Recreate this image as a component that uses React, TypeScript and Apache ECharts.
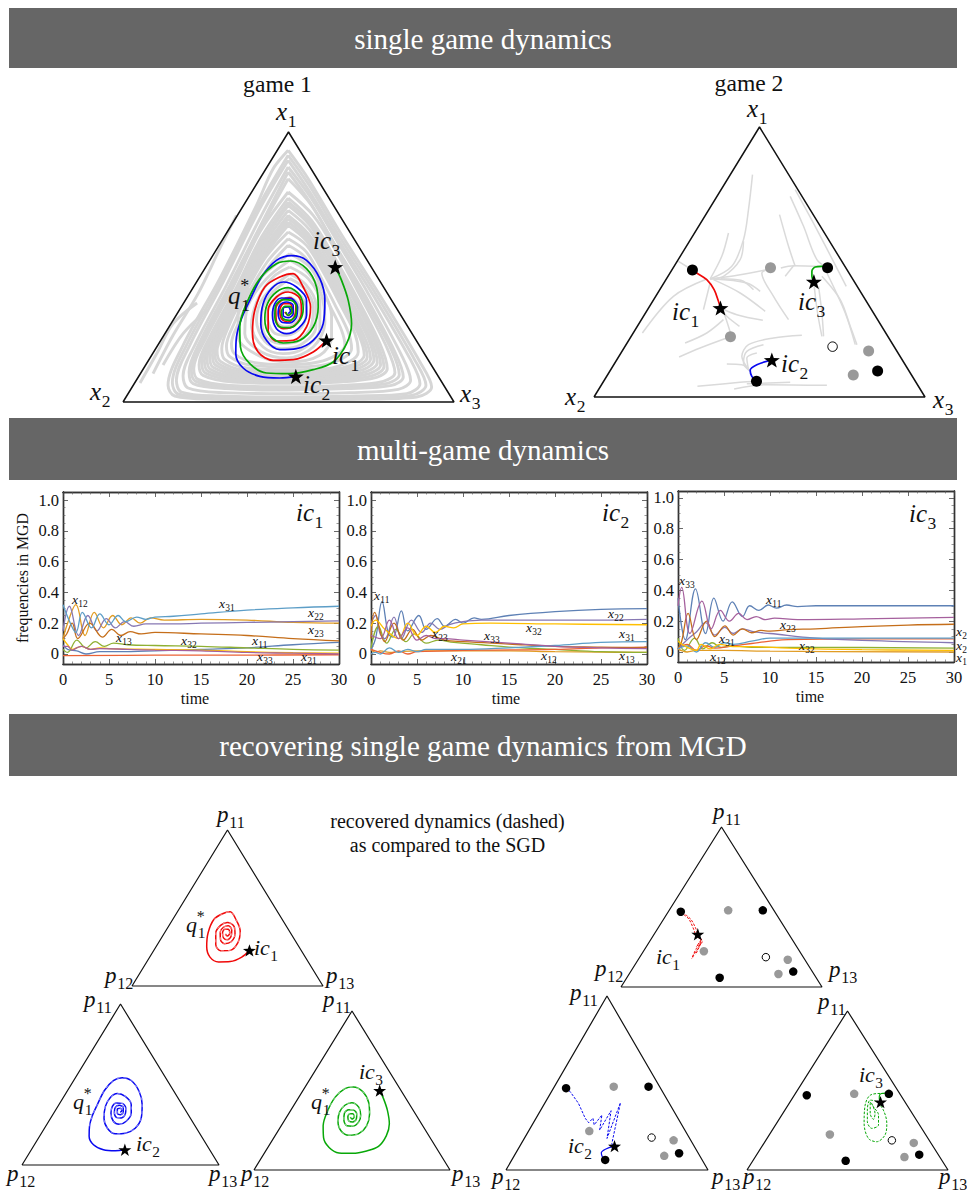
import React, { useEffect, useRef } from "react";
import * as echarts from "echarts";

// ---------- simplex-plane values (x along the base 0..992, y up to the apex 0..810) ----------
const SIMPLEX_X_MAX = 992;
const SIMPLEX_Y_MAX = 810;
const simplexEdge = [[0, 0], [992, 0], [496, 810], [0, 0]];

const spiralIc1 = [[610,185],[570,150],[510,127],[450,125],[405,150],[388,205],[395,275],[425,345],[470,375],[510,385],[540,345],[562,285],[550,225],[510,185],[460,183],[435,215],[435,275],[460,315],[495,330],[530,310],[535,270],[515,230],[480,220],[460,240],[458,280],[475,305],[500,313],[518,290],[515,260],[495,240],[475,250],[470,275],[482,295],[500,295],[508,275],[495,260],[485,270]];
const spiralIc2 = [[518,77],[470,72],[410,77],[360,102],[338,145],[340,195],[355,250],[380,305],[415,375],[460,425],[505,439],[550,425],[590,370],[605,305],[600,235],[570,185],[520,160],[470,157],[430,185],[413,235],[420,295],[445,340],[480,360],[520,345],[550,305],[550,260],[525,220],[490,205],[460,220],[448,260],[455,295],[475,312],[505,310],[523,285],[520,255],[500,237],[475,240],[465,265],[470,290],[490,300],[510,290],[510,265],[495,253],[480,260],[480,280],[495,285],[502,273],[495,265]];
const spiralIc3 = [[636,405],[655,365],[675,305],[685,235],[670,175],[630,120],[570,97],[500,85],[430,87],[380,115],[352,165],[350,225],[370,295],[410,370],[460,415],[502,423],[550,400],[580,345],[585,285],[570,225],[530,185],[480,177],[440,200],[425,250],[433,295],[460,330],[495,343],[530,320],[540,280],[530,245],[500,223],[470,225],[455,255],[458,290],[480,307],[505,305],[520,285],[518,260],[500,245],[480,250],[475,270],[485,287],[500,287],[507,270],[495,260],[488,270]];

const game1Gray = [
  [[495,755],[555,670],[650,510],[770,320],[890,120],[925,45],[880,15],[700,8],[495,5],[280,8],[155,18],[135,50],[180,170],[290,370],[400,590],[450,700],[495,755]],
  [[495,740],[558,650],[650,495],[760,320],[875,125],[908,50],[865,20],[700,12],[495,10],[285,13],[165,24],[148,58],[190,170],[295,365],[405,585],[495,740]],
  [[495,725],[560,630],[650,480],[750,320],[860,130],[890,55],[850,25],[700,18],[495,15],[290,18],[175,30],[160,65],[200,170],[300,360],[410,580],[495,725]],
  [[495,705],[565,610],[640,485],[735,325],[835,140],[862,65],[825,38],[680,28],[495,25],[300,28],[195,42],[180,78],[220,180],[310,350],[415,560],[495,705]],
  [[495,690],[560,600],[630,480],[720,330],[815,150],[840,75],[805,50],[670,40],[495,36],[310,40],[210,55],[198,90],[235,190],[320,350],[420,545],[495,690]],
  [[495,670],[565,590],[635,470],[715,325],[805,155],[828,82],[792,56],[665,45],[495,41],[315,45],[218,62],[205,95],[243,192],[325,348],[415,525],[495,670]],
  [[495,630],[570,560],[640,450],[710,320],[790,165],[815,88],[780,62],[660,50],[495,46],[320,50],[225,68],[212,100],[250,195],[330,345],[410,510],[495,630]],
  [[495,612],[565,545],[630,440],[700,315],[770,175],[792,100],[760,74],[650,60],[495,56],[330,60],[240,80],[228,112],[265,205],[338,340],[415,495],[495,612]],
  [[495,600],[562,538],[625,435],[695,312],[760,180],[782,106],[750,80],[645,65],[495,60],[335,65],[248,86],[236,118],[272,208],[342,338],[418,487],[495,600]],
  [[495,590],[560,530],[620,430],[690,310],[752,185],[772,112],[740,86],[640,70],[495,65],[340,70],[255,92],[244,124],[280,212],[345,335],[420,480],[495,590]],
  [[495,575],[558,518],[616,422],[682,308],[743,188],[762,118],[731,92],[635,75],[495,70],[345,75],[262,98],[252,130],[286,216],[348,332],[422,472],[495,575]],
  [[495,560],[555,505],[612,415],[675,305],[735,190],[752,125],[722,98],[630,80],[495,74],[350,80],[270,104],[260,136],[292,220],[350,330],[425,465],[495,560]],
  [[495,550],[554,498],[608,410],[668,302],[725,192],[742,130],[713,104],[625,85],[495,79],[355,85],[278,110],[268,142],[298,222],[353,328],[426,458],[495,550]],
  [[495,540],[552,490],[605,405],[662,300],[716,195],[732,135],[705,110],[620,90],[495,84],[360,90],[285,116],[275,148],[305,225],[356,325],[428,450],[495,540]],
  [[495,530],[551,482],[601,400],[656,298],[708,198],[723,140],[697,115],[615,95],[495,89],[365,95],[292,122],[282,154],[312,228],[359,322],[429,445],[495,530]],
  [[495,510],[550,470],[600,390],[650,295],[695,205],[705,150],[680,122],[610,100],[495,97],[370,102],[305,128],[296,160],[320,235],[362,320],[428,435],[495,510]],
  [[495,490],[548,452],[590,380],[636,290],[675,210],[685,160],[660,132],[595,110],[495,105],[385,110],[320,136],[310,168],[335,240],[370,315],[432,420],[495,490]],
  [[495,470],[545,435],[582,370],[622,285],[655,215],[665,170],[640,142],[585,120],[495,112],[395,118],[335,144],[325,175],[350,245],[378,310],[436,405],[495,470]],
  [[500,445],[560,405],[600,335],[625,260],[625,195],[590,140],[500,120],[415,135],[345,195],[345,270],[405,365],[500,445]],
  [[500,425],[555,388],[595,320],[605,240],[570,165],[490,132],[415,150],[365,205],[375,290],[430,370],[500,425]],
  [[500,405],[555,370],[590,300],[590,220],[540,160],[480,145],[420,165],[385,230],[405,310],[450,375],[500,405]],
  [[500,385],[548,352],[578,292],[578,225],[530,170],[475,160],[425,182],[400,245],[422,315],[500,385]],
  [[500,370],[545,340],[570,285],[565,230],[520,180],[470,175],[425,200],[415,260],[440,320],[500,370]],
  [[500,340],[535,315],[550,275],[535,225],[490,200],[450,210],[432,260],[455,310],[500,340]],
  [[500,315],[525,295],[530,265],[515,235],[485,225],[460,240],[450,270],[470,300],[500,315]],
  [[51,57],[102,147],[150,235],[222,297]],
  [[120,111],[180,205],[252,276]],
  [[90,85],[150,200],[225,325],[290,460],[340,560]],
];

const game2Gray = [
  [[475,667],[463,562],[448,472],[413,392],[348,354]],
  [[403,492],[383,422],[348,354]],
  [[448,467],[438,412],[388,362],[348,354]],
  [[518,382],[438,367],[348,354]],
  [[253,407],[295,381]],
  [[498,317],[458,342],[358,354]],
  [[513,257],[438,312],[358,352]],
  [[506,230],[428,247],[379,267]],
  [[436,212],[398,242],[379,267]],
  [[409,192],[393,242],[378,282]],
  [[273,162],[338,192],[388,232]],
  [[255,120],[318,147],[398,177]],
  [[145,192],[238,302],[338,354]],
  [[328,262],[348,342]],
  [[583,232],[538,302],[503,372],[518,382]],
  [[478,322],[440,350],[380,355]],
  [[588,602],[628,512],[668,412],[700,388]],
  [[556,547],[583,452],[603,392]],
  [[560,387],[598,394],[683,392]],
  [[573,362],[598,394]],
  [[603,622],[668,502],[756,332]],
  [[698,372],[753,252],[783,157]],
  [[683,362],[738,292],[768,212],[788,157]],
  [[660,332],[670,252],[683,182]],
  [[673,332],[683,252],[688,182]],
  [[623,185],[538,177],[463,157],[443,122],[468,77]],
  [[508,157],[458,137],[448,102],[468,77]],
  [[488,132],[458,117],[463,82]],
  [[398,99],[443,97],[470,77]],
  [[310,32],[438,44],[487,47]],
  [[420,24],[518,37],[698,35]],
  [[458,40],[588,44]],
];

const g2PathIc1 = [[295,381],[308,372],[338,352],[360,322],[373,287],[379,267]];
const g2PathIc2 = [[533,111],[488,97],[468,80],[473,62],[487,47]];
const g2PathIc3 = [[700,388],[683,392],[663,390],[653,377],[653,362],[659,346]];

const g2Black = [[295,381],[700,388],[487,47],[850,78]];
const g2Gray = [[529,388],[409,181],[823,138],[777,66]];
const g2White = [[715,151]];

const starsG1 = { ic1: [610, 185], ic2: [518, 77], ic3: [636, 405] };
const starsG2 = { ic1: [379, 267], ic2: [533, 111], ic3: [659, 346] };

const recoveredRedA = [[319,366],[346,341],[368,299],[383,260],[401,231],[373,197],[348,142]];
const recoveredRedB = [[310,366],[335,344],[356,299],[373,256],[392,240],[386,206],[363,169],[353,147]];
const recoveredRedC = [[397,240],[373,206],[397,226],[368,164]];
const recoveredBlue = [[294,379],[315,365],[356,310],[389,241],[406,220],[427,241],[433,210],[471,256],[460,186],[516,276],[496,147],[562,313],[520,124],[525,109]];
const recoveredGreen = [[696,388],[665,390],[608,381],[583,330],[578,237],[599,161],[640,144],[681,178],[690,237],[673,305],[640,347],[608,356],[594,305],[594,246],[616,212],[649,229],[649,280],[624,322],[608,347],[608,288],[624,258],[632,288],[616,339]];

// ---------- multi-game dynamics: [time, frequency] ----------
const ic1_x11 = [[0,.06],[.5,.03],[1.5,.02],[2.5,0],[4,.015],[6,.015],[10,.02],[15,.03],[20,.04],[25,.06],[30,.075]];
const ic1_x12 = [[0,.1],[.5,.2],[1.4,.32],[2.4,.12],[3.4,.27],[4.4,.17],[5.4,.25],[6.4,.19],[7.4,.235],[8.4,.2],[9.5,.235],[11,.22],[15,.225],[20,.22],[25,.205],[30,.2]];
const ic1_x13 = [[0,.03],[.5,.01],[1.5,.09],[2.5,.04],[3.5,.08],[4.5,.05],[5.5,.07],[7,.06],[10,.055],[15,.05],[20,.04],[25,.03],[30,.025]];
const ic1_x21 = [[0,-.01],[10,-.008],[20,-.007],[30,-.005]];
const ic1_x22 = [[0,.15],[.7,.31],[1.7,.12],[2.7,.25],[3.7,.15],[4.7,.23],[5.7,.17],[6.7,.21],[7.7,.18],[9,.195],[12,.195],[15,.2],[20,.205],[25,.21],[30,.215]];
const ic1_x23 = [[0,.1],[.4,.13],[1,.2],[1.6,.1],[2.9,.2],[4.3,.11],[5.3,.16],[6.3,.12],[7.3,.145],[8.5,.13],[10,.14],[15,.13],[20,.12],[25,.1],[30,.085]];
const ic1_x31 = [[0,.32],[.8,.2],[1.4,.14],[2.1,.27],[3.1,.17],[4,.26],[5,.19],[6,.25],[6.8,.21],[8,.24],[9,.225],[10,.24],[12,.245],[15,.26],[20,.285],[25,.3],[30,.31]];
const ic1_x32 = [[0,.1],[.5,.06],[1,.03],[2,.05],[3,.03],[4,.04],[5,.035],[10,.03],[15,.025],[20,.015],[25,.008],[30,.005]];
const ic1_x33 = [[0,.05],[.5,.05],[1,.025],[1.5,.04],[2,.05],[3,.03],[4,.035],[7,.03],[10,.025],[15,.02],[20,.01],[25,.005],[30,0]];

const ic2_x11 = [[0,.03],[.5,.1],[1.2,.34],[1.9,.13],[2.4,.11],[3.3,.28],[4,.15],[5.2,.25],[6,.16],[7.2,.23],[8,.18],[9.2,.225],[10,.2],[11.2,.235],[12,.225],[15,.25],[20,.275],[25,.29],[30,.295]];
const ic2_x12 = [[0,.03],[.5,.01],[1,.02],[2,.01],[3,.015],[5,.02],[10,.02],[15,.02],[20,.015],[25,.012],[30,.01]];
const ic2_x13 = [[0,.04],[.8,.18],[1.7,.07],[2.7,.16],[3.8,.08],[4.7,.13],[6,.07],[7.3,.09],[9,.075],[12,.06],[15,.045],[20,.03],[25,.015],[30,.01]];
const ic2_x21 = [[0,.03],[1,.01],[2,0],[3,.02],[4,0],[5,.015],[8,.02],[12,.025],[20,.03],[25,.04],[30,.045]];
const ic2_x22 = [[0,.2],[.5,.25],[1,.13],[1.5,.1],[2.5,.24],[3.3,.1],[4.4,.22],[5.5,.14],[6.5,.2],[7.5,.16],[8.5,.19],[10,.21],[12,.22],[15,.22],[20,.22],[25,.22],[30,.225]];
const ic2_x23 = [[0,.1],[.4,.27],[1.5,.08],[2.5,.2],[3.5,.09],[4.5,.16],[5.5,.09],[6.5,.12],[8,.09],[10,.08],[15,.065],[20,.05],[25,.045],[30,.04]];
const ic2_x31 = [[0,0],[.5,.01],[1,0],[2,.04],[3,.01],[4,.03],[5,.015],[6,.03],[10,.03],[15,.04],[20,.055],[25,.075],[30,.08]];
const ic2_x32 = [[0,.18],[.5,.22],[1.5,.16],[3,.1],[4,.2],[5,.12],[6,.18],[7,.14],[8,.18],[9,.17],[10,.195],[13,.2],[20,.195],[30,.19]];
const ic2_x33 = [[0,.12],[1,.1],[2,.22],[3,.1],[4,.17],[5,.09],[6,.12],[7,.1],[8,.1],[10,.09],[15,.07],[20,.05],[25,.04],[30,.035]];

const ic3_x11 = [[0,.35],[.8,.08],[1.9,.41],[3,.12],[3.9,.35],[4.9,.2],[5.9,.325],[7,.23],[7.8,.3],[8.8,.27],[9.8,.305],[10.7,.285],[11.8,.305],[13,.295],[15,.3],[30,.3]];
const ic3_x12 = [[0,.02],[1,0],[2,.01],[3,.01],[5,.01],[10,.005],[30,0]];
const ic3_x13 = [[0,.09],[.7,.01],[1.8,.09],[2.7,.02],[3.7,.06],[4.7,.03],[6,.04],[8,.03],[15,.03],[30,.025]];
const ic3_x21 = [[0,.02],[1,.05],[2,.01],[3,.04],[4,.025],[6,.04],[8,.055],[10,.07],[12,.08],[20,.085],[30,.085]];
const ic3_x22 = [[0,.02],[1,.08],[2,.13],[3,.19],[4,.11],[5.1,.16],[6,.12],[7,.15],[8.3,.13],[10,.12],[15,.09],[20,.075],[30,.06]];
const ic3_x23 = [[0,.02],[.4,.07],[1.1,.25],[2,.08],[3.1,.2],[4,.1],[5.1,.17],[6,.11],[7,.15],[8,.125],[9,.14],[10,.135],[12,.145],[15,.15],[20,.165],[25,.175],[30,.18]];
const ic3_x31 = [[0,.02],[1,.04],[2,0],[3,.06],[4,.03],[5,.06],[6,.05],[8,.07],[10,.09],[15,.09],[30,.09]];
const ic3_x32 = [[0,.07],[1,.03],[2,.01],[2.5,.05],[3.5,.02],[4.5,.05],[6,.035],[8,.035],[12,.025],[20,.015],[30,.01]];
const ic3_x33 = [[0,.3],[.4,.42],[1.3,.12],[2.6,.33],[3.6,.15],[4.6,.27],[5.6,.2],[6.6,.25],[7.5,.21],[8.5,.23],[9.5,.21],[10.5,.22],[13,.21],[20,.215],[30,.225]];

const ic1Lines = [ic1_x11, ic1_x12, ic1_x13, ic1_x21, ic1_x22, ic1_x23, ic1_x31, ic1_x32, ic1_x33];
const ic2Lines = [ic2_x11, ic2_x12, ic2_x13, ic2_x21, ic2_x22, ic2_x23, ic2_x31, ic2_x32, ic2_x33];
const ic3Lines = [ic3_x11, ic3_x12, ic3_x13, ic3_x21, ic3_x22, ic3_x23, ic3_x31, ic3_x32, ic3_x33];
const lineColors = ["#5E81B5", "#E19C24", "#8FB032", "#EB6235", "#8778B3", "#C56E1A", "#5D9EC7", "#FFBF00", "#A5609D"];

const xMajorTicks = [0, 5, 10, 15, 20, 25, 30];
const xMinorTicks = [1,2,3,4,6,7,8,9,11,12,13,14,16,17,18,19,21,22,23,24,26,27,28,29];
const yMajorTicks = [0, 0.2, 0.4, 0.6, 0.8, 1.0];
const yMinorTicks = [0.05,0.1,0.15,0.25,0.3,0.35,0.45,0.5,0.55,0.65,0.7,0.75,0.85,0.9,0.95];

// ---------- texts ----------
const headers = ["single game dynamics", "multi-game dynamics", "recovering single game dynamics from MGD"];
const FONT = "Liberation Serif";
const INK = "#111111";
const BLUE = "#0808f0";
const RED = "#f00808";
const GREEN = "#08a808";
const STAR = "path://M0,-10 L2.35,-3.24 L9.51,-3.09 L3.8,1.24 L5.88,8.09 L0,4 L-5.88,8.09 L-3.8,1.24 L-9.51,-3.09 L-2.35,-3.24 Z";

const ADV: any = { x: 0.47, ic: 0.74, p: 0.53, q: 0.53 };

function txt(text: string, x: number, y: number, size: number, extra: any = {}) {
  return {
    type: "text", x, y, z: 100, silent: true,
    style: { text, fontFamily: FONT, fontSize: size, fill: INK, textAlign: "left", verticalAlign: "middle", textVerticalAlign: "middle", ...extra },
  };
}
function lab(main: string, sub: string, x: number, yc: number, s: number, star = false) {
  const out: any[] = [txt(main, x, yc - 0.07 * s, s, { fontStyle: "italic" })];
  const a = ADV[main] * s;
  out.push(txt(sub, x + a, yc + 0.3 * s, s * 0.7));
  if (star) out.push(txt("*", x + a - 1, yc - 0.44 * s, s * 0.72));
  return out;
}

export default function App() {
  const ref = useRef<HTMLDivElement>(null);
  useEffect(() => {
    const chart = echarts.init(ref.current!, undefined, { renderer: "svg" });

    const grid: any[] = [];
    const xAxis: any[] = [];
    const yAxis: any[] = [];
    const series: any[] = [];

    function addSimplex(l: number, r: number, t: number, b: number) {
      const g = grid.length;
      grid.push({ left: l, top: t, width: r - l, height: b - t });
      xAxis.push({ gridIndex: g, type: "value", min: 0, max: SIMPLEX_X_MAX, show: false });
      yAxis.push({ gridIndex: g, type: "value", min: 0, max: SIMPLEX_Y_MAX, show: false });
      const ax = xAxis.length - 1;
      const ay = yAxis.length - 1;
      return { ax, ay };
    }
    function line(h: any, data: any, color: string, width: number, opts: any = {}) {
      series.push({
        type: "line", xAxisIndex: h.ax, yAxisIndex: h.ay, data, showSymbol: false, symbol: "none", clip: false, silent: true,
        smooth: opts.smooth ?? 0.33, z: opts.z ?? 2,
        lineStyle: { color, width, type: opts.dash ?? "solid", opacity: 1 },
      });
    }
    function dots(h: any, data: any, color: string, size: number, opts: any = {}) {
      series.push({
        type: "scatter", xAxisIndex: h.ax, yAxisIndex: h.ay, data, clip: false, silent: true, symbol: opts.symbol ?? "circle", symbolSize: size, z: opts.z ?? 6, symbolKeepAspect: true,
        itemStyle: { color, opacity: 1, borderColor: opts.border ?? color, borderWidth: opts.borderWidth ?? 0 },
      });
    }
    function frame(h: any, w: number) {
      line(h, simplexEdge, INK, w, { smooth: false, z: 5 });
    }

    // game 1
    const g1 = addSimplex(123, 454, 132, 402);
    game1Gray.forEach((d) => line(g1, d, "#d6d6d6", 2.9, { z: 1 }));
    frame(g1, 1.5);
    line(g1, spiralIc1, RED, 1.7, { z: 3 });
    line(g1, spiralIc2, BLUE, 1.7, { z: 3 });
    line(g1, spiralIc3, GREEN, 1.7, { z: 4 });
    dots(g1, [starsG1.ic1, starsG1.ic2, starsG1.ic3], "#000", 16, { symbol: STAR });

    // game 2
    const g2 = addSimplex(594, 925, 127, 397);
    game2Gray.forEach((d) => line(g2, d, "#dadada", 1.5, { z: 1 }));
    frame(g2, 1.5);
    line(g2, g2PathIc1, RED, 1.7, { z: 3 });
    line(g2, g2PathIc2, BLUE, 1.7, { z: 3 });
    line(g2, g2PathIc3, GREEN, 1.7, { z: 3 });
    dots(g2, g2Black, "#000", 11);
    dots(g2, g2Gray, "#999", 11);
    dots(g2, g2White, "#fff", 9.5, { border: "#000", borderWidth: 1 });
    dots(g2, [starsG2.ic1, starsG2.ic2, starsG2.ic3], "#000", 16, { symbol: STAR, z: 7 });

    // time panels
    function addPanel(lines: any[], l: number, r: number, t: number, b: number, yMin: number, yMax: number, title: boolean, namePad: number) {
      const g = grid.length;
      grid.push({ left: l, top: t, width: r - l, height: b - t });
      const axisLine = { show: true, onZero: false, lineStyle: { color: "#333", width: 1.4 } };
      const major = (vals: number[]) => ({ show: true, inside: true, length: 5, lineStyle: { color: "#444", width: 0.8 }, customValues: vals });
      const minor = (vals: number[]) => ({ show: true, inside: true, length: 2.5, lineStyle: { color: "#555", width: 0.6 }, customValues: vals });
      const xBase = { gridIndex: g, type: "value", min: 0, max: 30, splitLine: { show: false }, axisLine };
      const yBase = { gridIndex: g, type: "value", min: yMin, max: yMax, splitLine: { show: false }, axisLine };
      const ax = xAxis.length;
      const ay = yAxis.length;
      xAxis.push({
        ...xBase, position: "bottom", axisTick: major(xMajorTicks),
        axisLabel: { show: true, customValues: xMajorTicks, color: INK, fontFamily: FONT, fontSize: 16.5, margin: 7, formatter: (v: number) => String(v) },
        name: "time", nameLocation: "middle", nameGap: 26, nameTextStyle: { color: INK, fontFamily: FONT, fontSize: 16, padding: [0, namePad, 0, 0] },
      });
      xAxis.push({ ...xBase, position: "bottom", axisTick: minor(xMinorTicks), axisLabel: { show: false } });
      xAxis.push({ ...xBase, position: "top", axisTick: major(xMajorTicks), axisLabel: { show: false } });
      xAxis.push({ ...xBase, position: "top", axisTick: minor(xMinorTicks), axisLabel: { show: false } });
      yAxis.push({
        ...yBase, position: "left", axisTick: major(yMajorTicks),
        axisLabel: { show: true, customValues: yMajorTicks, color: INK, fontFamily: FONT, fontSize: 16.5, margin: 4, formatter: (v: number) => (Math.abs(v) < 1e-9 ? "0" : v.toFixed(1)) },
        ...(title ? { name: "frequencies in MGD", nameLocation: "middle", nameGap: 33, nameRotate: 90, nameTextStyle: { color: INK, fontFamily: FONT, fontSize: 15.8 } } : {}),
      });
      yAxis.push({ ...yBase, position: "left", axisTick: minor(yMinorTicks), axisLabel: { show: false } });
      yAxis.push({ ...yBase, position: "right", axisTick: major(yMajorTicks), axisLabel: { show: false } });
      yAxis.push({ ...yBase, position: "right", axisTick: minor(yMinorTicks), axisLabel: { show: false } });
      lines.forEach((d, i) => line({ ax, ay }, d, lineColors[i], 1.3, { smooth: 0.4, z: 2 + i * 0.01 }));
    }
    addPanel(ic1Lines, 63, 339, 492, 664, -0.065, 1.052, true, 12);
    addPanel(ic2Lines, 371, 647, 492, 664, -0.065, 1.052, false, 6);
    addPanel(ic3Lines, 678, 954, 491, 662, -0.065, 1.045, false, 12);

    // recovered, game 1 copies
    function recoveredSpiral(box: number[], data: number[][], color: string, cut: number) {
      const h = addSimplex(box[0], box[1], box[2], box[3]);
      frame(h, 1.2);
      line(h, data, color, 1.5, { z: 3 });
      line(h, data.slice(cut), "#ffffff", 0.5, { z: 4, dash: [3, 4] });
      return h;
    }
    const r1 = recoveredSpiral([132, 323, 830, 986], spiralIc1, RED, 7);
    dots(r1, [starsG1.ic1], "#000", 13, { symbol: STAR });
    const r2 = recoveredSpiral([22, 219, 1004, 1165], spiralIc2, BLUE, 5);
    dots(r2, [starsG1.ic2], "#000", 13, { symbol: STAR });
    const r3 = recoveredSpiral([254, 450, 1011, 1170], spiralIc3, GREEN, 12);
    dots(r3, [starsG1.ic3], "#000", 13, { symbol: STAR });

    // recovered, game 2 copies
    function recoveredFixed(box: number[]) {
      const h = addSimplex(box[0], box[1], box[2], box[3]);
      frame(h, 1.2);
      dots(h, g2Black, "#000", 8.5);
      dots(h, g2Gray, "#999", 8.5);
      dots(h, g2White, "#fff", 7.5, { border: "#000", borderWidth: 1 });
      return h;
    }
    const r4 = recoveredFixed([621, 822, 827, 987]);
    line(r4, g2PathIc1.slice(0, 2), RED, 1.1, { z: 3 });
    line(r4, recoveredRedA, RED, 1, { z: 3, dash: [2.5, 1.5] });
    line(r4, recoveredRedB, RED, 1, { z: 3, dash: [2.5, 1.5] });
    line(r4, recoveredRedC, RED, 1, { z: 3, dash: [2.5, 1.5], smooth: false });
    dots(r4, [starsG2.ic1], "#000", 13, { symbol: STAR, z: 7 });
    const r5 = recoveredFixed([506, 708, 996, 1170]);
    line(r5, g2PathIc2, BLUE, 1.2, { z: 3 });
    line(r5, recoveredBlue, BLUE, 1, { z: 3, dash: [2.5, 1.5], smooth: false });
    dots(r5, [starsG2.ic2], "#000", 13, { symbol: STAR, z: 7 });
    const r6 = recoveredFixed([747, 948, 1011, 1170]);
    line(r6, g2PathIc3, GREEN, 1.2, { z: 3 });
    line(r6, recoveredGreen, GREEN, 1, { z: 3, dash: [2.5, 1.5] });
    dots(r6, [starsG2.ic3], "#000", 13, { symbol: STAR, z: 7 });

    // page texts
    const g: any[] = [];
    const bars = [[8, 60], [418, 62], [714, 62]];
    bars.forEach(([top, h], i) => {
      g.push({ type: "rect", z: 90, silent: true, shape: { x: 9, y: top, width: 948, height: h }, style: { fill: "#666666" } });
      g.push(txt(headers[i], 483, top + h / 2 + 0.5, 29, { fill: "#ffffff", textAlign: "center" }));
    });
    g.push(txt("game 1", 277.5, 84, 23.6, { textAlign: "center" }));
    g.push(txt("game 2", 749, 83, 23.6, { textAlign: "center" }));
    g.push(txt("recovered dynamics (dashed)", 447.5, 821, 20, { textAlign: "center" }));
    g.push(txt("as compared to the SGD", 447.5, 845, 20, { textAlign: "center" }));

    const big: any[] = [
      ["x","1",276,113],["x","2",90,393],["x","3",460,395],["ic","3",313,242],["ic","1",332,357],["ic","2",303,386],
      ["x","1",747,110],["x","2",565,398],["x","3",933,401],["ic","1",672,313],["ic","3",798,303],["ic","2",781,365],
      ["ic","1",296,514],["ic","2",602,514],["ic","3",909,515],
    ];
    big.forEach((b) => g.push(...lab(b[0], b[1], b[2], b[3], 25)));
    g.push(...lab("q", "1", 228, 297, 25, true));

    const small: any[] = [
      ["12",72,600],["31",219,604],["22",308,613],["23",308,630],["13",116,638],["32",181,641],["11",252,641],["33",257,657],["21",301,657],
      ["11",374,596],["22",608,614],["23",432,634],["33",484,636],["32",526,628],["31",619,634],["21",451,657],["12",541,656],["13",619,656],
      ["33",679,581],["11",766,600],["23",780,625],["31",719,639],["32",799,646],["12",710,657],["2",956,632],["2",956,646],["1",956,658],
    ];
    small.forEach((s) => g.push(...lab("x", s[0], s[1], s[2], 13.5)));

    const pl: any[] = [
      ["p","11",217,816],["p","12",105,977],["p","13",326,977],
      ["p","11",84,1001],["p","12",7,1175],["p","13",209,1175],
      ["p","11",323,1001],["p","12",241,1175],["p","13",452,1175],
      ["p","11",713,813],["p","12",595,970],["p","13",829,971],
      ["p","11",570,994],["p","12",492,1178],["p","13",712,1178],
      ["p","11",818,1003],["p","12",743,1178],["p","13",939,1178],
    ];
    pl.forEach((p) => g.push(...lab(p[0], p[1], p[2], p[3], 23)));
    const ic: any[] = [
      ["ic","1",254,949],["ic","2",136,1145],["ic","3",359,1073],
      ["ic","1",656,958],["ic","2",568,1147],["ic","3",859,1076],
    ];
    ic.forEach((p) => g.push(...lab(p[0], p[1], p[2], p[3], 22)));
    g.push(...lab("q", "1", 186, 926, 22, true));
    g.push(...lab("q", "1", 73, 1103, 22, true));
    g.push(...lab("q", "1", 311, 1103, 22, true));

    chart.setOption({
      animation: false,
      backgroundColor: "#ffffff",
      grid, xAxis, yAxis, series,
      graphic: { elements: g },
    });
    return () => chart.dispose();
  }, []);
  return <div ref={ref} style={{ position: "absolute", left: 0, top: 0, width: 967, height: 1193 }} />;
}
